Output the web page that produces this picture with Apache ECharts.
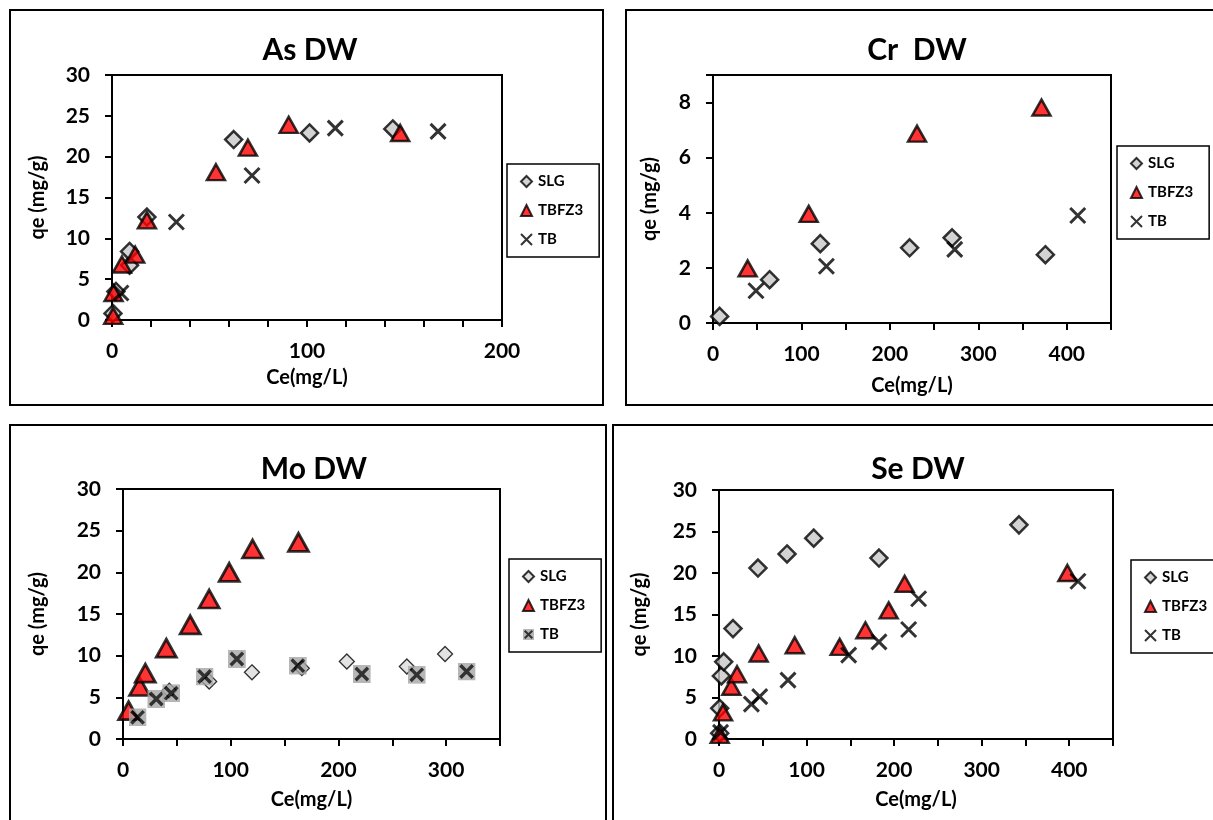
<!DOCTYPE html>
<html>
<head>
<meta charset="utf-8">
<script src="https://cdn.jsdelivr.net/npm/echarts@6/dist/echarts.min.js"></script>
<style>
html,body{margin:0;padding:0;background:#fff}
#main{width:1213px;height:820px}
</style>
</head>
<body>
<div id="main"></div>
<script>
// As DW  [Ce, qe]
var asSLG = [[0.5,0.8],[2,3.5],[9,6.7],[9,8.4],[17.9,12.6],[62.4,22.1],[101.3,22.9],[144,23.4]]
var asTBFZ3 = [[0.6,0.5],[0.8,3.3],[5.1,6.8],[11.9,8.0],[17.9,12.2],[53.3,18.1],[69.7,21.1],[90.6,23.9],[147.8,22.9]]
var asTB = [[4.6,3.3],[33,12.0],[71.8,17.7],[114.5,23.5],[167.2,23.1]]

// Cr DW
var crSLG = [[7.5,0.24],[64,1.57],[121.3,2.88],[222.3,2.73],[270.3,3.09],[375.8,2.48]]
var crTBFZ3 = [[39.2,1.98],[108.2,3.96],[230.7,6.87],[371.4,7.82]]
var crTB = [[48.6,1.17],[128.2,2.06],[273.3,2.67],[412.4,3.9]]

// Mo DW
var moSLG = [[43,5.8],[80,6.9],[119.7,8.0],[166,8.5],[207.8,9.3],[263.5,8.7],[299,10.2]]
var moTBFZ3 = [[5.2,3.4],[15.4,6.3],[20.7,7.9],[40.2,10.9],[62.4,13.7],[80,16.8],[98.6,20.0],[120.3,22.8],[162.9,23.6]]
var moTB = [[13.5,2.6],[30.9,4.8],[44.8,5.5],[75.7,7.5],[105.7,9.6],[162.3,8.8],[221.7,7.8],[272.7,7.7],[319,8.1]]

// Se DW
var seSLG = [[0.8,0.7],[0.8,3.7],[2.7,7.6],[5.4,9.3],[16,13.3],[44.5,20.6],[77.7,22.3],[108.2,24.2],[182.7,21.8],[342.6,25.8]]
var seTBFZ3 = [[0.8,0.5],[4.6,3.2],[14.1,6.3],[20.6,7.8],[45.3,10.3],[86.5,11.3],[137.8,11.1],[167.2,13.1],[193.8,15.5],[212,18.7],[397.9,20.0]]
var seTB = [[1.8,0.8],[37,4.2],[46.5,5.1],[78.8,7.1],[148.1,10.1],[182.7,11.7],[216.6,13.2],[228,16.9],[410,19.0]]

var names = ['SLG','TBFZ3','TB']
var font = 'Lato, "Open Sans", sans-serif'

var sqX = 'image://data:image/svg+xml;charset=utf-8,' + encodeURIComponent(
  "<svg xmlns='http://www.w3.org/2000/svg' width='32' height='32' viewBox='0 0 32 32'>" +
  "<rect width='32' height='32' fill='#a6a6a6'/><path d='M5,5L27,27M27,5L5,27' stroke='#000' stroke-width='6'/></svg>")

var mk = {
  diamond: {symbol:'diamond', symbolSize:17, itemStyle:{color:'#c8c8c8', borderColor:'#000', borderWidth:2.5}},
  diamondLight: {symbol:'diamond', symbolSize:15, itemStyle:{color:'#dcdcdc', borderColor:'#000', borderWidth:1.3}},
  tri: {symbol:'triangle', symbolSize:[18,16], itemStyle:{color:'#ff0000', borderColor:'#000', borderWidth:2.5}},
  triBig: {symbol:'triangle', symbolSize:[20,18], itemStyle:{color:'#ff0000', borderColor:'#000', borderWidth:2.8}},
  cross: {symbol:'path://M0,0L10,10M10,0L0,10', symbolSize:15, itemStyle:{color:'#000', borderColor:'#000', borderWidth:3}},
  sqCross: {symbol:sqX, symbolSize:18, itemStyle:{color:'#a6a6a6'}}
}

var panels = [
  {key:'As', title:'As DW', tx:305, ty:30, grid:{left:112,top:75,width:390,height:245},
   xMax:200, xStep:20, xLab:100, yMax:30, yStep:5, yGap:64, xGap:48, leg:{left:507,top:164},
   data:[asSLG,asTBFZ3,asTB], marks:['diamond','tri','cross']},
  {key:'Cr', title:'Cr  DW', tx:912, ty:30, grid:{left:713,top:75,width:398,height:248},
   xMax:450, xStep:50, xLab:100, yMax:9, yStep:2, yGap:53, xGap:53, leg:{left:1117,top:146},
   data:[crSLG,crTBFZ3,crTB], marks:['diamond','tri','cross']},
  {key:'Mo', title:'Mo DW', tx:309, ty:449, grid:{left:123,top:489,width:377,height:250},
   xMax:350, xStep:50, xLab:100, yMax:30, yStep:5, yGap:75, xGap:51, leg:{left:509,top:559},
   data:[moSLG,moTBFZ3,moTB], marks:['diamondLight','triBig','sqCross']},
  {key:'Se', title:'Se DW', tx:913, ty:449, grid:{left:719,top:490,width:394,height:249},
   xMax:450, xStep:50, xLab:100, yMax:30, yStep:5, yGap:69, xGap:51, leg:{left:1131,top:560},
   data:[seSLG,seTBFZ3,seTB], marks:['diamond','tri','cross']}
]

var lbl = {fontFamily:font, fontWeight:'bold', color:'#000'}
var axLine = {show:true, onZero:false, lineStyle:{color:'#000', width:2}}
var axTick = {show:true, length:7, lineStyle:{color:'#000', width:2}}

var option = {
  backgroundColor:'#fff',
  animation:false,
  title:[], grid:[], xAxis:[], yAxis:[], legend:[], series:[],
  graphic:[
    {type:'rect', shape:{x:10,y:10,width:593,height:395}, style:{fill:'none',stroke:'#000',lineWidth:2}},
    {type:'rect', shape:{x:626,y:10,width:620,height:395}, style:{fill:'none',stroke:'#000',lineWidth:2}},
    {type:'rect', shape:{x:10,y:425,width:596,height:430}, style:{fill:'none',stroke:'#000',lineWidth:2}},
    {type:'rect', shape:{x:613,y:425,width:640,height:430}, style:{fill:'none',stroke:'#000',lineWidth:2}}
  ]
}

panels.forEach((p,i)=>{
  option.title.push({text:p.title, left:p.tx, top:p.ty, textAlign:'center',
    textStyle:Object.assign({fontSize:30}, lbl)})
  option.grid.push(Object.assign({show:true, borderColor:'#000', borderWidth:2, outerBoundsMode:'none'}, p.grid))
  option.xAxis.push({type:'value', gridIndex:i, min:0, max:p.xMax, interval:p.xStep,
    name:'Ce(mg/L)', nameLocation:'middle', nameGap:p.xGap, nameTextStyle:Object.assign({fontSize:20}, lbl),
    axisLine:axLine, axisTick:axTick, splitLine:{show:false},
    axisLabel:Object.assign({fontSize:21, margin:21, formatter:v=>v % p.xLab === 0 ? v : ''}, lbl)})
  option.yAxis.push({type:'value', gridIndex:i, min:0, max:p.yMax, interval:p.yStep,
    name:'qe (mg/g)', nameLocation:'middle', nameGap:p.yGap, nameTextStyle:Object.assign({fontSize:20}, lbl),
    axisLine:axLine, axisTick:axTick, splitLine:{show:false},
    axisLabel:Object.assign({fontSize:21, margin:22, formatter:v=>v % p.yStep === 0 ? v : ''}, lbl)})
  option.legend.push({orient:'vertical', left:p.leg.left, top:p.leg.top, selectedMode:false,
    data:names.map(n=>p.key+'|'+n), formatter:n=>n.split('|')[1],
    itemWidth:11, itemHeight:11, itemGap:14, padding:[10,16,10,13],
    borderColor:'#000', borderWidth:1.5, backgroundColor:'#fff',
    textStyle:Object.assign({fontSize:15, padding:[0,0,0,1]}, lbl)})
  names.forEach((n,j)=>{
    option.series.push(Object.assign({type:'scatter', name:p.key+'|'+n, xAxisIndex:i, yAxisIndex:i,
      data:p.data[j], z:2+j}, JSON.parse(JSON.stringify(mk[p.marks[j]]))))
  })
})

var chart = echarts.init(document.getElementById('main'))
chart.setOption(option)
</script>
</body>
</html>
